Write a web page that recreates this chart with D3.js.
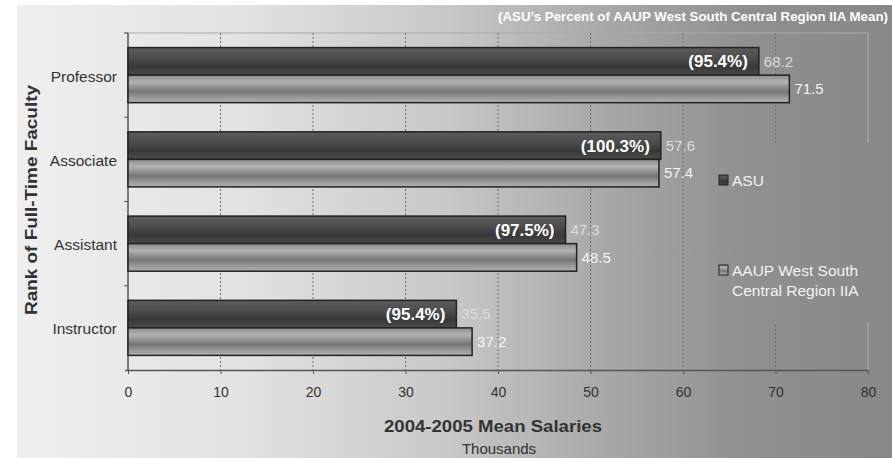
<!DOCTYPE html>
<html>
<head>
<meta charset="utf-8">
<script src="https://cdn.jsdelivr.net/npm/d3@7"></script>
<style>
  body { margin: 0; background: #fff; }
  svg { display: block; font-family: "Liberation Sans", Arial, sans-serif; }
</style>
</head>
<body>
<svg id="chart" width="892" height="458"></svg>
<script>
const categories = ["Professor", "Associate", "Assistant", "Instructor"];
const series = ["ASU", "AAUP"];
const asuValues = [68.2, 57.6, 47.3, 35.5];
const aaupValues = [71.5, 57.4, 48.5, 37.2];
const percentLabels = ["(95.4%)", "(100.3%)", "(97.5%)", "(95.4%)"];
const xTicks = [0, 10, 20, 30, 40, 50, 60, 70, 80];
const legendLabels = [["ASU"], ["AAUP West South", "Central Region IIA"]];

const width = 892, height = 458;
const margin = { top: 33, right: 24, bottom: 88, left: 128 };

const svg = d3.select("#chart");
const defs = svg.append("defs");

// page background, horizontal grey fade
const bg = defs.append("linearGradient").attr("id", "bg")
  .attr("gradientUnits", "userSpaceOnUse")
  .attr("x1", 17).attr("x2", 892).attr("y1", 0).attr("y2", 0);
[[0, "#efefef"], [0.26, "#e2e2e2"], [0.49, "#c8c8c8"], [0.66, "#aaaaaa"], [0.83, "#909090"], [1, "#888888"]]
  .forEach(s => bg.append("stop").attr("offset", s[0]).attr("stop-color", s[1]));

const gAsu = defs.append("linearGradient").attr("id", "gAsu")
  .attr("x1", 0).attr("x2", 0).attr("y1", 0).attr("y2", 1);
[[0, "#5c5c5c"], [0.35, "#4e4e4e"], [0.7, "#383838"], [1, "#4c4c4c"]]
  .forEach(s => gAsu.append("stop").attr("offset", s[0]).attr("stop-color", s[1]));

const gAaup = defs.append("linearGradient").attr("id", "gAaup")
  .attr("x1", 0).attr("x2", 0).attr("y1", 0).attr("y2", 1);
[[0, "#8a8a8a"], [0.25, "#b2b2b2"], [0.6, "#767676"], [0.85, "#9e9e9e"], [1, "#b0b0b0"]]
  .forEach(s => gAaup.append("stop").attr("offset", s[0]).attr("stop-color", s[1]));

svg.append("rect").attr("x", 17).attr("y", 5).attr("width", width - 17).attr("height", height - 5)
  .attr("fill", "url(#bg)");

const x = d3.scaleLinear().domain([0, 80]).range([margin.left, width - margin.right]);
const y = d3.scaleBand().domain(categories).range([margin.top, height - margin.bottom]);
const y1 = d3.scaleBand().domain(series).range([0, y.bandwidth()]).paddingOuter(0.53);

const x0 = x(0), x1 = x(80), yTop = margin.top, yBot = height - margin.bottom;

// plot frame
svg.append("path").attr("d", `M${x0 - 3},${yTop}H${x1}V${yBot}`)
  .attr("fill", "none").attr("stroke", "#aaa").attr("stroke-width", 1.2);

// dotted gridlines
svg.append("g").selectAll("line").data(xTicks.slice(1, -1)).join("line")
  .attr("x1", d => x(d)).attr("x2", d => x(d)).attr("y1", yTop).attr("y2", yBot)
  .attr("stroke", "#707070").attr("stroke-width", 1).attr("stroke-dasharray", "2,2");

// legend box hides the grid behind it
svg.append("rect").attr("x", 708).attr("y", 143).attr("width", 175).attr("height", 180)
  .attr("fill", "url(#bg)");

// x axis
const xAxis = svg.append("g").attr("transform", `translate(0,${yBot})`)
  .call(d3.axisBottom(x).tickValues(xTicks).tickSize(4).tickPadding(13).tickSizeOuter(0));
xAxis.attr("font-family", null).attr("font-size", null);
xAxis.select(".domain").attr("d", `M${x0 - 3},0.5H${x1}`).attr("stroke", "#555").attr("stroke-width", 1.5);
xAxis.selectAll(".tick line").attr("stroke", "#555");
xAxis.selectAll(".tick text").attr("fill", "#333").attr("font-size", 14);

// y axis
const yAxisG = svg.append("g").attr("transform", `translate(${x0},0)`);
yAxisG.append("line").attr("x1", 0).attr("x2", 0).attr("y1", yTop).attr("y2", yBot)
  .attr("stroke", "#555").attr("stroke-width", 1.5);
yAxisG.selectAll(".sep").data(categories).join("line").attr("class", "sep")
  .attr("x1", -4).attr("x2", 0).attr("y1", d => y(d)).attr("y2", d => y(d))
  .attr("stroke", "#555");
yAxisG.selectAll(".cat").data(categories).join("text").attr("class", "cat")
  .attr("x", -11).attr("y", d => y(d) + y.bandwidth() / 2 + 1).attr("dy", "0.35em")
  .attr("text-anchor", "end").attr("fill", "#333").attr("font-size", 15.5).text(d => d);

// bars
const rows = categories.map((c, i) => ({ cat: c, asu: asuValues[i], aaup: aaupValues[i], pct: percentLabels[i] }));
const groups = svg.append("g").selectAll("g").data(rows).join("g")
  .attr("transform", d => `translate(0,${y(d.cat)})`);

groups.append("rect")
  .attr("x", x0).attr("y", y1("ASU")).attr("width", d => x(d.asu) - x0).attr("height", y1.bandwidth())
  .attr("fill", "url(#gAsu)").attr("stroke", "#222").attr("stroke-width", 1.5);
groups.append("rect")
  .attr("x", x0).attr("y", y1("AAUP")).attr("width", d => x(d.aaup) - x0).attr("height", y1.bandwidth())
  .attr("fill", "url(#gAaup)").attr("stroke", "#222").attr("stroke-width", 1.5);

groups.append("text")
  .attr("x", d => x(d.asu) + 5).attr("y", y1("ASU") + y1.bandwidth() / 2).attr("dy", "0.35em")
  .attr("fill", "#dcdcdc").attr("font-size", 15).text(d => d.asu.toFixed(1));
groups.append("text")
  .attr("x", d => x(d.aaup) + 5).attr("y", y1("AAUP") + y1.bandwidth() / 2).attr("dy", "0.35em")
  .attr("fill", "#f4f4f4").attr("font-size", 15).text(d => d.aaup.toFixed(1));
groups.append("text")
  .attr("x", d => x(d.asu) - 11).attr("y", y1("ASU") + y1.bandwidth() / 2).attr("dy", "0.36em")
  .attr("text-anchor", "end").attr("fill", "#fff").attr("font-weight", "bold").attr("font-size", 17)
  .text(d => d.pct);

// legend
const legend = svg.append("g");
const legendY = [180, 270];
series.forEach((s, i) => {
  legend.append("rect").attr("x", 719).attr("y", legendY[i] - 5).attr("width", 9).attr("height", 10)
    .attr("fill", i === 0 ? "url(#gAsu)" : "url(#gAaup)").attr("stroke", "#222").attr("stroke-width", 1);
  legend.append("text").attr("x", 732).attr("y", legendY[i])
    .attr("fill", "#f2f2f2").attr("font-size", 15.5)
    .selectAll("tspan").data(legendLabels[i]).join("tspan")
    .attr("x", 732).attr("dy", (d, j) => j === 0 ? "0.36em" : "1.3em").text(d => d);
});

// titles
svg.append("text").attr("x", 888).attr("y", 21).attr("text-anchor", "end")
  .attr("fill", "#fff").attr("font-weight", "bold").attr("font-size", 13)
  .attr("textLength", 390).attr("lengthAdjust", "spacingAndGlyphs")
  .text("(ASU\u2019s Percent of AAUP West South Central Region IIA Mean)");

svg.append("text").attr("transform", `translate(37,200) rotate(-90)`)
  .attr("text-anchor", "middle").attr("fill", "#333").attr("font-weight", "bold").attr("font-size", 17)
  .attr("textLength", 230).attr("lengthAdjust", "spacingAndGlyphs")
  .text("Rank of Full-Time Faculty");

svg.append("text").attr("x", 493).attr("y", 432).attr("text-anchor", "middle")
  .attr("fill", "#333").attr("font-weight", "bold").attr("font-size", 17)
  .attr("textLength", 218).attr("lengthAdjust", "spacingAndGlyphs")
  .text("2004-2005 Mean Salaries");
svg.append("text").attr("x", 499).attr("y", 454).attr("text-anchor", "middle")
  .attr("fill", "#333").attr("font-size", 15)
  .text("Thousands");
</script>
</body>
</html>
